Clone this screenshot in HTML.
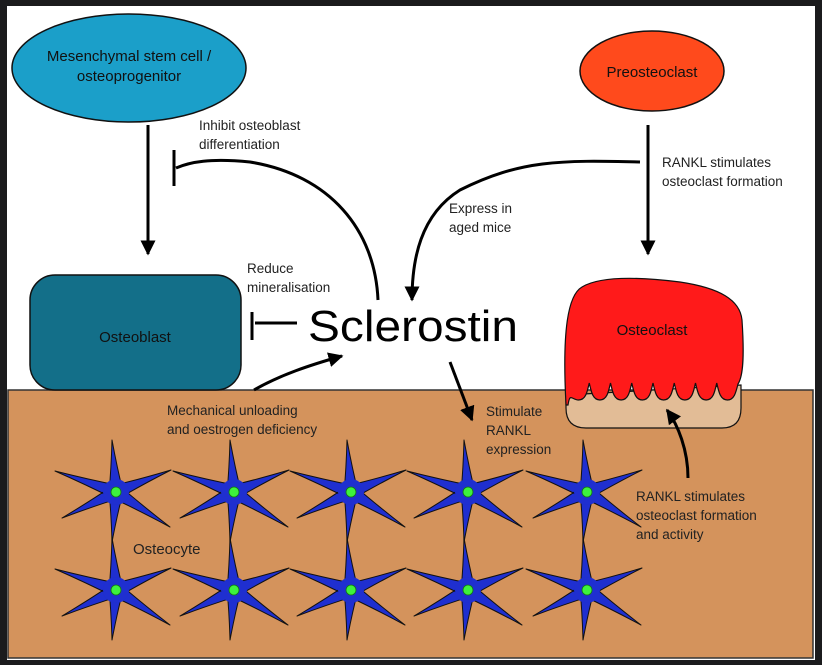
<!DOCTYPE html>
<html><head><style>html,body{margin:0;padding:0;background:#1b1b1d;}svg{display:block}</style></head>
<body>
<svg id="s" width="822" height="665" viewBox="0 0 822 665" xmlns="http://www.w3.org/2000/svg" font-family="Liberation Sans, sans-serif">
<defs>
<marker id="ah" viewBox="0 0 10 10" refX="9" refY="5" markerWidth="5" markerHeight="5" orient="auto-start-reverse"><path d="M0,0 L10,5 L0,10 z" fill="#000"/></marker>
</defs>
<rect x="7" y="6" width="808" height="654" fill="#fff"/>
<rect x="8" y="390" width="805" height="268" fill="#d4935c" stroke="#333" stroke-width="1.5"/>
<g id="cells"></g>
<ellipse cx="129" cy="68" rx="117" ry="54" fill="#1b9fc9" stroke="#111" stroke-width="1.5"/>
<text x="129" y="61" font-size="15" text-anchor="middle" fill="#111">Mesenchymal stem cell /</text>
<text x="129" y="81" font-size="15" text-anchor="middle" fill="#111">osteoprogenitor</text>
<ellipse cx="652" cy="71" rx="72" ry="40" fill="#ff4a1c" stroke="#111" stroke-width="1.5"/>
<text x="652" y="77" font-size="15" text-anchor="middle" fill="#111">Preosteoclast</text>
<rect x="30" y="275" width="211" height="115" rx="25" fill="#136f89" stroke="#111" stroke-width="1.5"/>
<text x="135" y="342" font-size="15" text-anchor="middle" fill="#111">Osteoblast</text>
<path d="M566,395 L566,408 Q566,428 586,428 L722,428 Q741,428 741,408 L741,385 Z" fill="#e2bc96" stroke="#111" stroke-width="1.2"/>
<path id="oc" fill="#ff1a1a" stroke="#111" stroke-width="1.2"/>
<text x="652" y="335" font-size="15" text-anchor="middle" fill="#111">Osteoclast</text>
<g stroke="#000" stroke-width="3" fill="none">
<line x1="148" y1="125" x2="148" y2="254" marker-end="url(#ah)"/>
<line x1="648" y1="125" x2="648" y2="254" marker-end="url(#ah)"/>
<path d="M378,300 C375,230 330,175 250,162 C210,158 190,162 176,168"/>
<line x1="174" y1="150" x2="174" y2="186"/>
<path d="M640,162 C560,160 520,160 460,190 C420,215 412,260 412,300" marker-end="url(#ah)"/>
<line x1="297" y1="323" x2="255" y2="323"/>
<line x1="252" y1="312" x2="252" y2="340"/>
<path d="M254,390 C280,375 310,365 342,356" marker-end="url(#ah)"/>
<line x1="450" y1="362" x2="472" y2="420" marker-end="url(#ah)"/>
<path d="M688,478 C688,450 678,425 667,410" marker-end="url(#ah)"/>
</g>
<text x="308" y="341" font-size="44" textLength="210" lengthAdjust="spacingAndGlyphs" fill="#000">Sclerostin</text>
<g font-size="13.5" fill="#222">
<text x="199" y="130">Inhibit osteoblast</text>
<text x="199" y="149">differentiation</text>
<text x="247" y="273">Reduce</text>
<text x="247" y="292">mineralisation</text>
<text x="449" y="213">Express in</text>
<text x="449" y="232">aged mice</text>
<text x="662" y="167">RANKL stimulates</text>
<text x="662" y="186">osteoclast formation</text>
<text x="167" y="415">Mechanical unloading</text>
<text x="167" y="434">and oestrogen deficiency</text>
<text x="486" y="416">Stimulate</text>
<text x="486" y="435">RANKL</text>
<text x="486" y="454">expression</text>
<text x="636" y="501">RANKL stimulates</text>
<text x="636" y="520">osteoclast formation</text>
<text x="636" y="539">and activity</text>
<text x="133" y="554" font-size="15">Osteocyte</text>
</g>
</svg>
<script>
(function(){
var d='M566,405 C562,330 568,295 582,287 C600,276 640,277 680,282 C720,288 740,300 742,320 C744,350 744,375 738,384 ';
var x0=738,x1=568,n=8,step=(x0-x1)/n,x=x0;
for(var i=0;i<n;i++){var xm=x-step/2,xe=x-step;
 d+='C'+(x-2)+',392 '+(xm+7)+',400 '+xm+',400 C'+(xm-7)+',400 '+(xe+2)+',392 '+xe+','+(i==n-1?405:383)+' ';
 x=xe;}
d+='Z';document.getElementById('oc').setAttribute('d',d);
var g=document.getElementById('cells'),h='';
var xs=[116,234,351,468,587],ys=[492,590];
var arms=[[-4,-52],[-61,-21],[-54,26],[54,35],[55,-22],[-4,50]];
function arm(cx,cy,dx,dy){var L=Math.hypot(dx,dy),nx=-dy/L,ny=dx/L,w=7;
var mx=cx+dx*0.45,my=cy+dy*0.45;
return 'M'+(cx+nx*w)+','+(cy+ny*w)+' Q'+(mx+nx*3)+','+(my+ny*3)+' '+(cx+dx)+','+(cy+dy)+' Q'+(mx-nx*3)+','+(my-ny*3)+' '+(cx-nx*w)+','+(cy-ny*w)+' Z ';}
ys.forEach(function(cy){xs.forEach(function(cx){
var d='';arms.forEach(function(a){d+=arm(cx,cy,a[0],a[1]);});
h+='<path d="'+d+'" fill="#1f2fd0" stroke="#111" stroke-width="1" stroke-linejoin="round"/>';
h+='<circle cx="'+cx+'" cy="'+cy+'" r="13" fill="#1f2fd0"/>';
h+='<circle cx="'+cx+'" cy="'+cy+'" r="5" fill="#3df23d" stroke="#117711" stroke-width="0.8"/>';
});});
g.innerHTML=h;
})();
</script>
</body></html>
